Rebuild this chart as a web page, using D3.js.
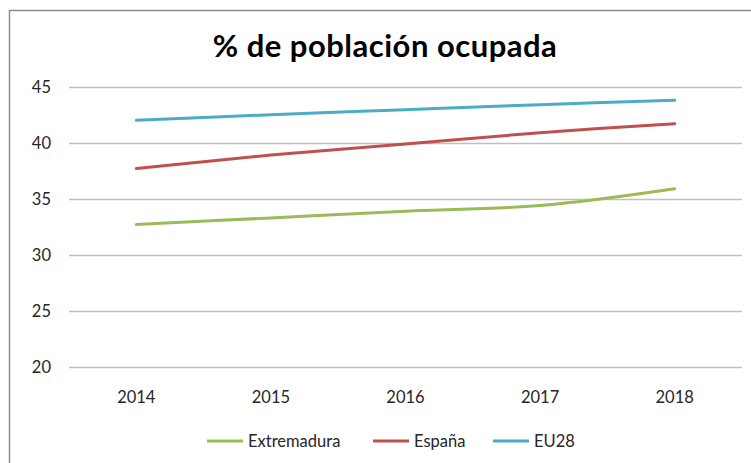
<!DOCTYPE html>
<html>
<head>
<meta charset="utf-8">
<script src="https://cdn.jsdelivr.net/npm/d3@7"></script>
<style>
  body { margin: 0; background: #fff; }
  svg { display: block; font-family: Lato, "Open Sans", sans-serif; }
</style>
</head>
<body>
<svg id="chart" width="751" height="463"></svg>
<script>
// dati
const years = ["2014", "2015", "2016", "2017", "2018"];
const extremadura = [32.7, 33.3, 33.9, 34.4, 35.9];
const espana = [37.7, 38.9, 39.9, 40.9, 41.7];
const eu28 = [42.0, 42.5, 42.95, 43.4, 43.8];
const yTicks = [20, 25, 30, 35, 40, 45];

const series = [
  { name: "Extremadura", values: extremadura, color: "#9bbb59" },
  { name: "España", values: espana, color: "#c0504d" },
  { name: "EU28", values: eu28, color: "#4bacc6" }
];

const svg = d3.select("#chart");

// cornice del grafico
svg.append("rect")
  .attr("x", 9.5).attr("y", 10.5)
  .attr("width", 800).attr("height", 500)
  .attr("fill", "none")
  .attr("stroke", "#8c8c8c")
  .attr("stroke-width", 1.5);

// titolo
svg.append("text")
  .attr("x", 385).attr("y", 57)
  .attr("text-anchor", "middle")
  .attr("font-size", 31)
  .attr("font-weight", "bold")
  .attr("letter-spacing", 0.5)
  .attr("fill", "#000")
  .text("% de población ocupada");

/* scale */
const x = d3.scaleBand().domain(years).range([69, 742]);
const y = d3.scaleLinear().domain([20, 45]).range([367, 86.7]);

// griglia orizzontale
svg.append("g")
  .selectAll("line")
  .data(yTicks)
  .join("line")
  .attr("x1", 69).attr("x2", 742)
  .attr("y1", d => Math.round(y(d)) + 0.5)
  .attr("y2", d => Math.round(y(d)) + 0.5)
  .attr("stroke", "#bfbfbf")
  .attr("stroke-width", 1.5);

// etichette asse Y
svg.append("g")
  .selectAll("text")
  .data(yTicks)
  .join("text")
  .attr("x", 51)
  .attr("y", d => y(d) + 6)
  .attr("text-anchor", "end")
  .attr("font-size", 16.5)
  .attr("fill", "#262626")
  .text(d => d);

// etichette asse X
svg.append("g")
  .selectAll("text")
  .data(years)
  .join("text")
  .attr("x", d => x(d) + x.bandwidth() / 2)
  .attr("y", 403)
  .attr("text-anchor", "middle")
  .attr("font-size", 16.5)
  .attr("fill", "#262626")
  .text(d => d);

// linee smussate
const line = d3.line()
  .x((d, i) => x(years[i]) + x.bandwidth() / 2)
  .y(d => y(d))
  .curve(d3.curveCatmullRom.alpha(0.5));

svg.append("g")
  .selectAll("path")
  .data(series)
  .join("path")
  .attr("d", d => line(d.values))
  .attr("fill", "none")
  .attr("stroke", d => d.color)
  .attr("stroke-width", 3)
  .attr("stroke-linecap", "round");

// legenda
const legendX = [207, 373, 493];
const legend = svg.append("g")
  .selectAll("g")
  .data(series)
  .join("g")
  .attr("transform", (d, i) => `translate(${legendX[i]},441)`);

legend.append("line")
  .attr("x1", 0).attr("x2", 36)
  .attr("stroke", d => d.color)
  .attr("stroke-width", 3);

legend.append("text")
  .attr("x", 41).attr("y", 6)
  .attr("font-size", 16.5)
  .attr("fill", "#262626")
  .text(d => d.name);
</script>
</body>
</html>
